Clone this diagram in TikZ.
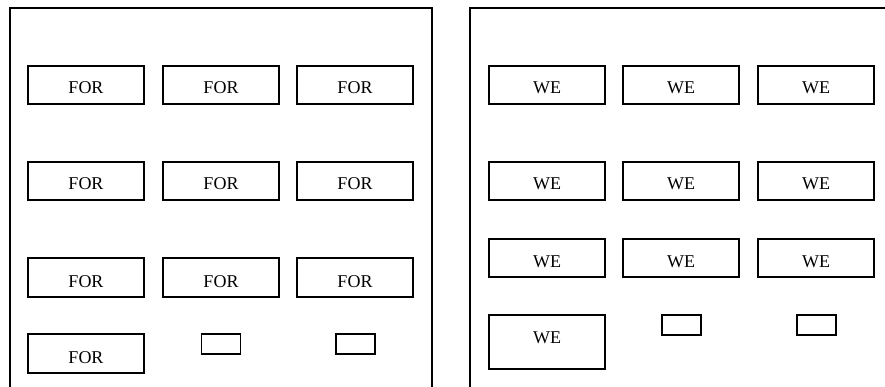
\documentclass[tikz,border=0pt]{standalone}
\usepackage{fontspec}
\setmainfont{Liberation Serif}
\begin{document}
\begin{tikzpicture}[x=1pt,y=-1pt,
  panel/.style={draw=black,line width=1.3pt},
  cell/.style={draw=black,line width=1.3pt,inner sep=0pt,minimum width=116pt,minimum height=38pt,
     font=\fontsize{18}{18}\selectfont,text height=18pt,text depth=0pt},
  tiny/.style={draw=black,line width=1.3pt,inner sep=0pt,minimum width=39pt,minimum height=20pt}]
\useasboundingbox (0,0) rectangle (885,387);
\clip (0,0) rectangle (885,387);
% panels
\draw[panel] (10,400) -- (10,8) -- (432,8) -- (432,400);
\draw[panel] (470,400) -- (470,8) -- (900,8) -- (900,400);
% left panel
\node[cell] (f11) at (86,85) {FOR};
\node[cell] (f12) at (221,85) {FOR};
\node[cell] (f13) at (355,85) {FOR};
\node[cell] (f21) at (86,181) {FOR};
\node[cell] (f22) at (221,181) {FOR};
\node[cell] (f23) at (355,181) {FOR};
\node[cell,minimum height=39pt,text height=19pt] (f31) at (86,277.5) {FOR};
\node[cell,minimum height=39pt,text height=19pt] (f32) at (221,277.5) {FOR};
\node[cell,minimum height=39pt,text height=19pt] (f33) at (355,277.5) {FOR};
\node[cell,minimum height=39pt,text height=19pt] (f41) at (86,353.5) {FOR};
\node[tiny] (fs1) at (221,344) {};
\node[tiny] (fs2) at (355.5,344) {};
% right panel
\node[cell] (w11) at (547,85) {WE};
\node[cell] (w12) at (681,85) {WE};
\node[cell] (w13) at (816,85) {WE};
\node[cell] (w21) at (547,181) {WE};
\node[cell] (w22) at (681,181) {WE};
\node[cell] (w23) at (816,181) {WE};
\node[cell] (w31) at (547,258) {WE};
\node[cell] (w32) at (681,258) {WE};
\node[cell] (w33) at (816,258) {WE};
\node[cell,minimum height=54pt,text height=3pt] (w41) at (547,342) {WE};
\node[tiny] (ws1) at (681.5,325) {};
\node[tiny] (ws2) at (816.5,325) {};
\end{tikzpicture}
\end{document}
